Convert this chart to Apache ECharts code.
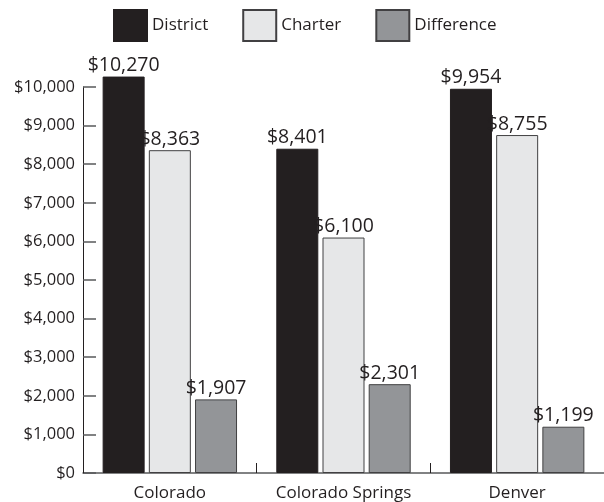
<!DOCTYPE html>
<html>
<head>
<meta charset="utf-8">
<script src="https://cdn.jsdelivr.net/npm/echarts@6/dist/echarts.min.js"></script>
<style>
  html, body { margin: 0; padding: 0; background: #fff; }
  #chart { width: 604px; height: 502px; }
</style>
</head>
<body>
<div id="chart"></div>
<script>
// 地区，学区/特许学校/差额
var categories = ['Colorado', 'Colorado Springs', 'Denver'];
var district = [10270, 8401, 9954];
var charter = [8363, 6100, 8755];
var difference = [1907, 2301, 1199];

var txtColor = '#231f20';
var font = 'Open Sans';

function money(v){
    return '$' + v.toString().replace(/\B(?=(\d{3})+(?!\d))/g, ',');
}

function makeSeries(name, data, color, border){
    return {
        name: name,
        type: 'bar',
        data: data,
        barWidth: 42,
        barGap: '10%',
        clip: false,
        itemStyle: {
            color: color,
            borderColor: border,
            borderWidth: 1
        },
        label: {
            show: true,
            position: 'top',
            distance: 1,
            color: txtColor,
            fontFamily: font,
            fontSize: 19.5,
            formatter: function(p){ return money(p.value); }
        }
    };
}

var myChart = echarts.init(document.getElementById('chart'));
var option = {
    animation: false,
    legend: {
        top: 9,
        left: 113,
        padding: 0,
        icon: 'rect',
        itemWidth: 33,
        itemHeight: 31,
        itemGap: 34,
        textStyle: { color: txtColor, fontFamily: font, fontSize: 17 },
        data: ['District', 'Charter', 'Difference']
    },
    grid: [
        { left: 83, right: 0, top: 87, bottom: 29 },
        // 第二个grid只用来画内侧刻度
        { left: 96, right: 0, top: 87, bottom: 29 }
    ],
    xAxis: [{
        type: 'category',
        data: categories,
        axisLine: { lineStyle: { color: '#58595b', width: 1.5 } },
        axisTick: { show: true, inside: true, interval: 0, length: 10, lineStyle: { color: txtColor } },
        axisLabel: { interval: 0, hideOverlap: false, color: txtColor, fontFamily: font, fontSize: 17, margin: 12 }
    }, {
        type: 'category',
        gridIndex: 1,
        data: categories,
        show: false
    }],
    yAxis: [{
        type: 'value',
        min: 0,
        max: 10000,
        interval: 1000,
        splitLine: { show: false },
        axisLine: { show: true, lineStyle: { color: txtColor, width: 1 } },
        axisTick: { show: false },
        axisLabel: {
            color: txtColor, fontFamily: font, fontSize: 16.5, margin: 8,
            formatter: function(v){ return money(v); }
        }
    }, {
        type: 'value',
        gridIndex: 1,
        min: 0,
        max: 10000,
        interval: 1000,
        splitLine: { show: false },
        axisLine: { show: true, onZero: false, lineStyle: { color: 'rgba(0,0,0,0)' } },
        axisLabel: { show: false },
        axisTick: { show: true, inside: false, length: 13, lineStyle: { color: '#58595b', width: 1.5 } }
    }],
    series: [
        makeSeries('District', district, '#231f20', '#231f20'),
        makeSeries('Charter', charter, '#e6e7e8', '#414042'),
        makeSeries('Difference', difference, '#939598', '#414042'),
        { name: 'ticks', type: 'line', xAxisIndex: 1, yAxisIndex: 1, data: [], silent: true, showSymbol: false }
    ]
};
myChart.setOption(option);
</script>
</body>
</html>
